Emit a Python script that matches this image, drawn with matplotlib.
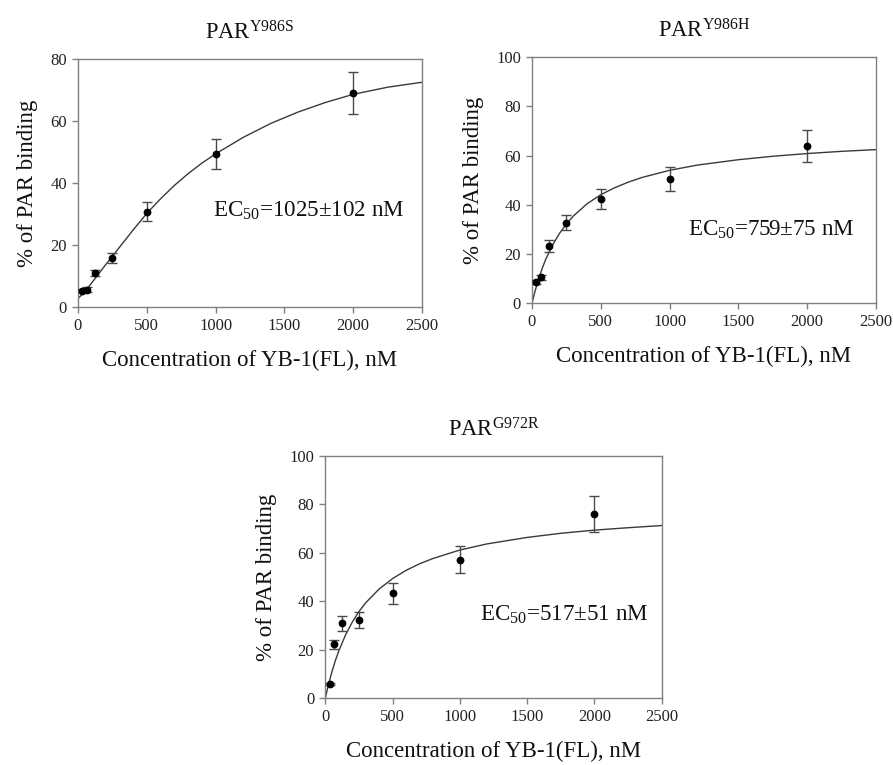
import matplotlib
matplotlib.use("Agg")
import matplotlib.pyplot as plt

plt.rcParams['font.family'] = ['Liberation Serif', 'DejaVu Serif']
plt.rcParams['mathtext.fontset'] = 'custom'
plt.rcParams['mathtext.rm'] = 'Liberation Serif'
plt.rcParams['mathtext.it'] = 'Liberation Serif:italic'
plt.rcParams['mathtext.bf'] = 'Liberation Serif:bold'

# ---- data ----
conc = [31.25, 62.5, 125, 250, 500, 1000, 2000]

y986s_mean = [5.2, 5.6, 11.0, 15.8, 30.8, 49.3, 69.0]
y986s_err = [0.5, 0.8, 1.0, 1.6, 3.1, 4.8, 6.8]
y986h_mean = [8.8, 10.5, 23.4, 32.8, 42.3, 50.4, 63.9]
y986h_err = [0.8, 1.1, 2.4, 3.2, 4.1, 5.0, 6.4]
g972r_mean = [5.9, 22.3, 30.9, 32.3, 43.3, 57.2, 76.1]
g972r_err = [0.5, 1.9, 3.0, 3.2, 4.3, 5.6, 7.5]

# fitted curves
fit1_x = [0, 50, 100, 150, 200, 250, 300, 400, 500, 600, 700, 800, 900, 1000,
          1200, 1400, 1600, 1800, 2000, 2250, 2500]
fit1_y = [2.7, 5.0, 7.8, 10.7, 13.6, 16.3, 19.2, 24.8, 30.2, 34.9, 39.2, 43.0,
          46.4, 49.4, 54.7, 59.2, 62.9, 66.0, 68.6, 70.9, 72.5]
fit_x = [0, 10, 25, 50, 75, 100, 150, 200, 250, 300, 400, 500, 600, 700, 800,
         1000, 1200, 1500, 1750, 2000, 2250, 2500]
fit2_y = [0, 2.3, 5.5, 10.2, 14.3, 17.9, 23.7, 28.4, 32.2, 35.4, 40.4, 44.1,
          46.9, 49.2, 51.1, 54.0, 56.1, 58.3, 59.7, 60.8, 61.7, 62.4]
fit3_y = [0, 2.5, 6.0, 11.1, 15.6, 19.5, 26.1, 31.4, 35.8, 39.4, 45.1, 49.4,
          52.8, 55.5, 57.7, 61.2, 63.7, 66.4, 68.1, 69.4, 70.4, 71.3]

titles = [r"PAR$^{\mathrm{Y986S}}$", r"PAR$^{\mathrm{Y986H}}$", r"PAR$^{\mathrm{G972R}}$"]
ec50_labels = [r"EC$_{\mathrm{50}}$=1025±102 nM", r"EC$_{\mathrm{50}}$=759±75 nM",
               r"EC$_{\mathrm{50}}$=517±51 nM"]
xlabel = "Concentration of YB-1(FL), nM"
ylabel = "% of PAR binding"
xticks = [0, 500, 1000, 1500, 2000, 2500]

fig = plt.figure(figsize=(8.93, 7.65), dpi=100)
W, H = 893.0, 765.0
boxes = [(78, 59, 422, 307), (532, 57, 876, 303.3), (325.3, 456, 661.7, 698.3)]
axes = [fig.add_axes([l / W, 1 - b / H, (r - l) / W, (b - t) / H]) for (l, t, r, b) in boxes]

panels = [
    (fit1_x, fit1_y, y986s_mean, y986s_err, 80, [0, 20, 40, 60, 80], (983, 30.9)),
    (fit_x, fit2_y, y986h_mean, y986h_err, 100, [0, 20, 40, 60, 80, 100], (1136, 29.7)),
    (fit_x, fit3_y, g972r_mean, g972r_err, 100, [0, 20, 40, 60, 80, 100], (1150, 34.4)),
]

for ax, title, ec, (fx, fy, ym, ye, ymax, yt, tpos) in zip(axes, titles, ec50_labels, panels):
    ax.plot(fx, fy, color='#3a3a3a', lw=1.0, zorder=2)
    ax.errorbar(conc, ym, yerr=ye, fmt='o', color='black', ms=4.6,
                ecolor='#4a4a4a', elinewidth=1.0, capsize=3.5, capthick=1.0, zorder=3)
    ax.set_xlim(0, 2500)
    ax.set_ylim(0, ymax)
    ax.set_xticks(xticks)
    ax.set_yticks(yt)
    for s in ax.spines.values():
        s.set_color('#808080')
        s.set_linewidth(1.0)
    ax.tick_params(direction='out', length=4, width=1.0, color='#808080',
                   labelsize=12, labelcolor='#222222', pad=4)
    ax.set_xlabel(xlabel, fontsize=16.5, labelpad=11, color='#111111')
    ax.set_ylabel(ylabel, fontsize=16.5, labelpad=9, color='#111111')
    ax.set_title(title, fontsize=16.3, pad=14, color='#111111')
    ax.text(tpos[0], tpos[1], ec, fontsize=16.6, ha='left', va='center', color='#111111')

fig.savefig("out.png", dpi=100)
